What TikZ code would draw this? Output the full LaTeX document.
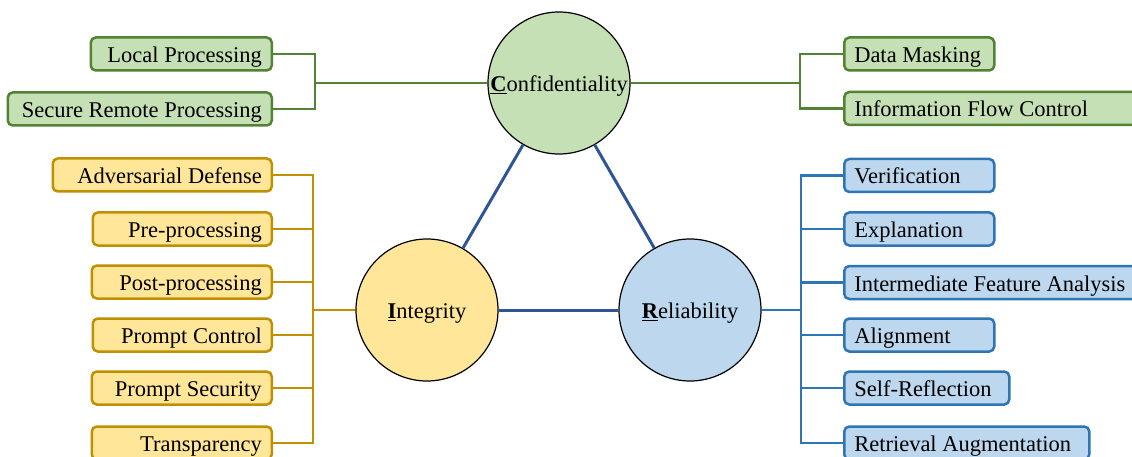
\documentclass[tikz,border=0pt]{standalone}
\usepackage{fontspec}
\setmainfont{Liberation Serif}
\definecolor{gfill}{HTML}{C5E0B4}
\definecolor{gline}{HTML}{548235}
\definecolor{yfill}{HTML}{FFE699}
\definecolor{yline}{HTML}{BF9000}
\definecolor{bfill}{HTML}{BDD7EE}
\definecolor{bline}{HTML}{2E75B6}
\definecolor{tline}{HTML}{2F5597}
\begin{document}
\begin{tikzpicture}
		[
			x=1pt, y=-1pt,
			font=\fontsize{22.5}{26}\selectfont,
			pillar/.style={circle, draw, line width=1.2pt, minimum size=142pt, inner sep=0pt, text height=19pt, text depth=2pt},
			leaf/.style={rectangle, rounded corners=5pt, line width=2.5pt, minimum height=33pt, inner xsep=10pt, inner ysep=0pt, text height=19pt, text depth=2pt},
			gbox/.style={leaf, draw=gline, fill=gfill},
			ybox/.style={leaf, draw=yline, fill=yfill},
			bbox/.style={leaf, draw=bline, fill=bfill},
			gedge/.style={draw=gline, line width=2.5pt},
			yedge/.style={draw=yline, line width=2.5pt},
			bedge/.style={draw=bline, line width=2.5pt},
			tedge/.style={draw=tline, line width=3pt},
		]
		\useasboundingbox (0,0) rectangle (1132,457);

		% Pillars
		\node[pillar, fill=gfill] (conf) at (559,83) {\underline{\textbf{C}}onfidentiality};
		\node[pillar, fill=yfill] (integ) at (427,310) {\underline{\textbf{I}}ntegrity};
		\node[pillar, fill=bfill] (reli) at (690,310) {\underline{\textbf{R}}eliability};

		% Triangle
		\foreach \u/\v in
		{
			conf/integ,
			conf/reli,
			integ/reli}
			\draw[tedge] (\u) -- (\v);

		% Junctions
		\coordinate (cjl) at (315,83);
		\coordinate (cjr) at (800,83);
		\coordinate (ij) at (313,310);
		\coordinate (rj) at (801,310);

		% Left leaves
		\foreach \style/\name/\y/\tw/\text in
		{
			gbox/lp/54/161/Local Processing,
			gbox/srp/109/244/Secure Remote Processing,
			ybox/ad/175/199/Adversarial Defense,
			ybox/pre/229/159/Pre-processing,
			ybox/post/282/160/Post-processing,
			ybox/pc/335/159/Prompt Control,
			ybox/ps/388/160/Prompt Security,
			ybox/tr/443/160/Transparency
		}
			\node[\style, anchor=east, text width=\tw pt, align=flush right] (\name) at (273,\y) {\text};

		% Right leaves
		\foreach \style/\name/\y/\tw/\text in
		{
			gbox/dm/54/130/Data Masking,
			gbox/ifc/108.5/280/Information Flow Control,
			bbox/ver/175.5/130/Verification,
			bbox/expl/229/130/Explanation,
			bbox/ifa/282.5/275/Intermediate Feature Analysis,
			bbox/ali/335/130/Alignment,
			bbox/sr/388/145/Self-Reflection,
			bbox/ra/443/225/Retrieval Augmentation
		}
			\node[\style, anchor=west, text width=\tw pt, align=flush left] (\name) at (843,\y) {\text};

		% Edges
		\foreach \u/\j/\e in
		{
			lp/cjl/gedge,
			srp/cjl/gedge,
			ad/ij/yedge,
			pre/ij/yedge,
			post/ij/yedge,
			pc/ij/yedge,
			ps/ij/yedge,
			tr/ij/yedge}
			\draw[\e] (\u.east) -| (\j);
		\foreach \u/\j/\e in
		{
			dm/cjr/gedge,
			ifc/cjr/gedge,
			ver/rj/bedge,
			expl/rj/bedge,
			ifa/rj/bedge,
			ali/rj/bedge,
			sr/rj/bedge,
			ra/rj/bedge}
			\draw[\e] (\u.west) -| (\j);

		\draw[gedge] (cjl) -- (conf);
		\draw[gedge] (conf) -- (cjr);
		\draw[yedge] (ij) -- (integ);
		\draw[bedge] (reli) -- (rj);

		\end{tikzpicture}
\end{document}
